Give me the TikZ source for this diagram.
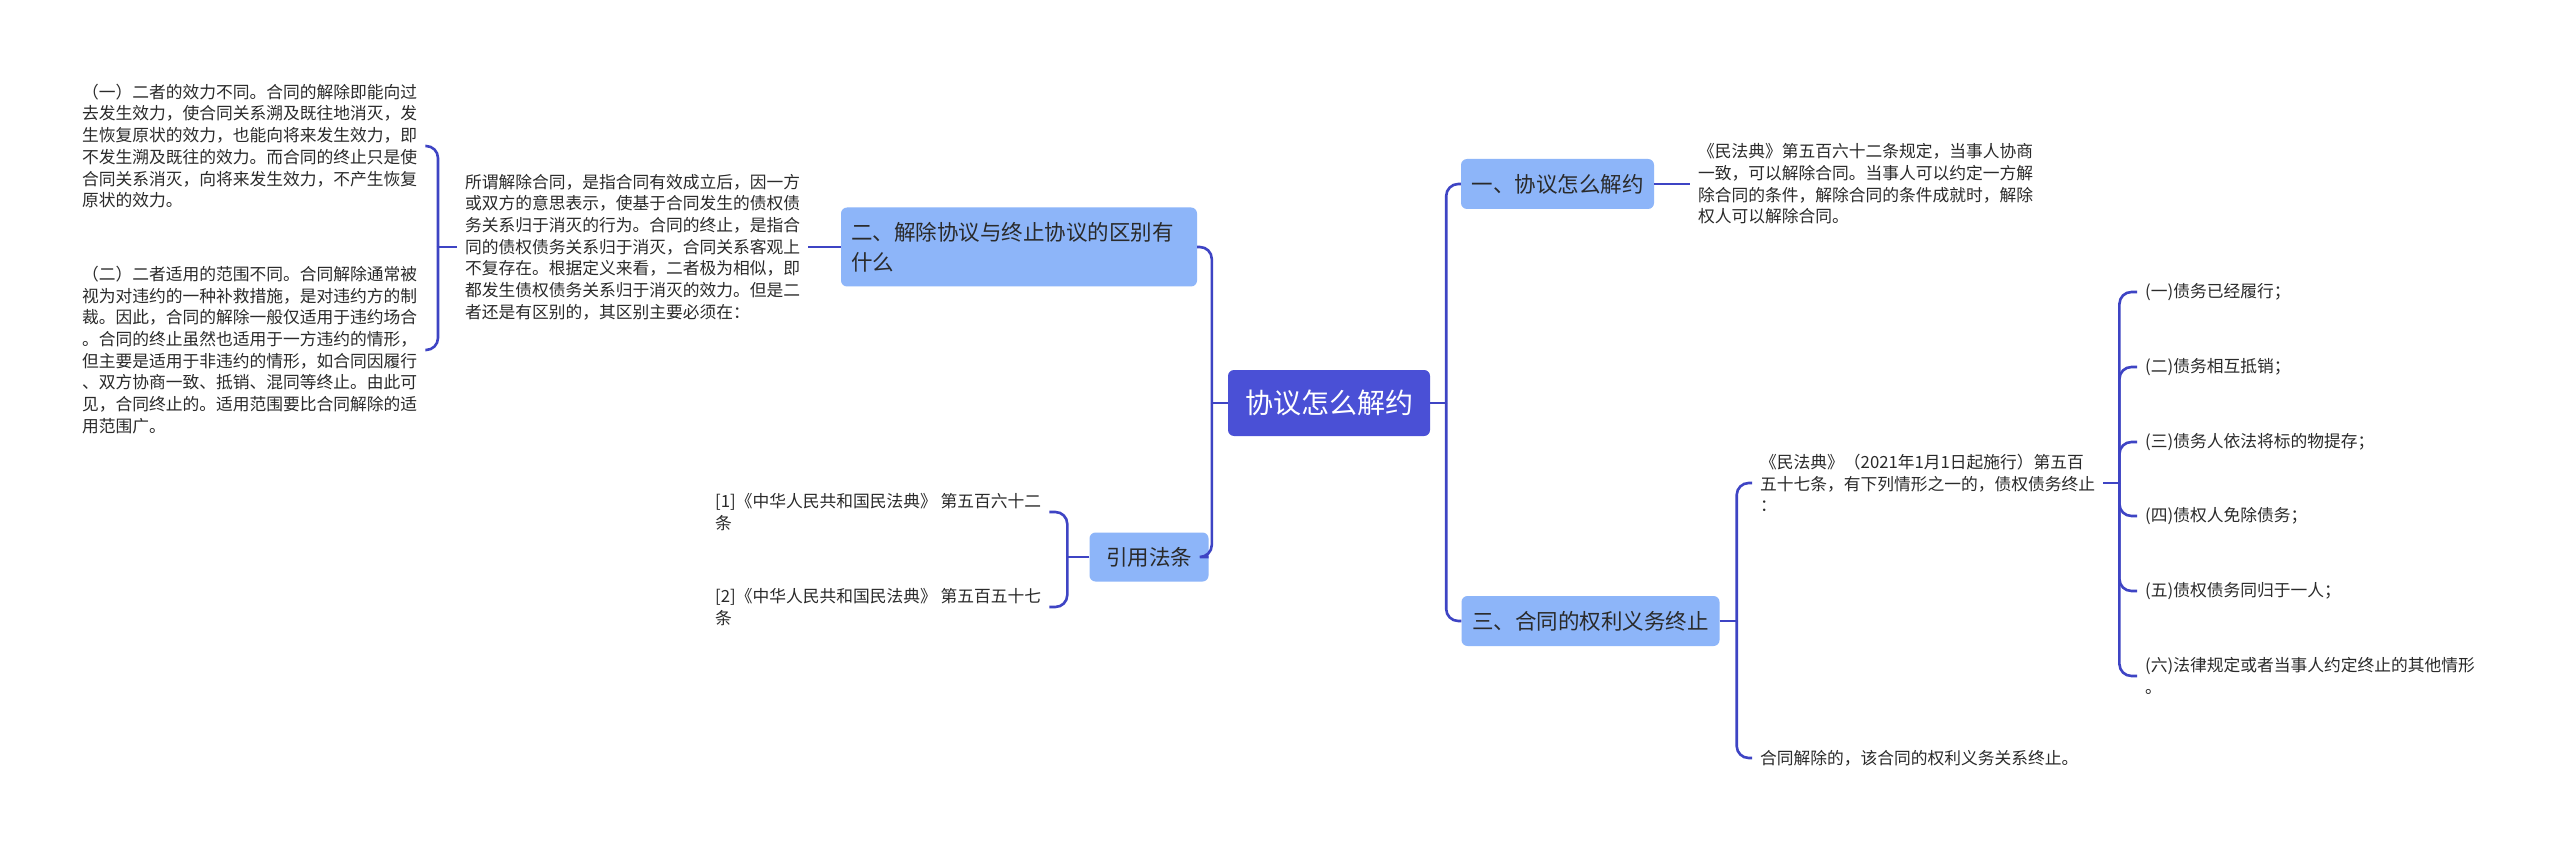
\documentclass[tikz,border=0pt]{standalone}
\usepackage{fontspec}
\setmainfont{Noto Sans CJK SC}
\definecolor{conn}{HTML}{3E44C4}
\definecolor{centerfill}{HTML}{4A50D6}
\definecolor{subfill}{HTML}{8DB5F9}
\definecolor{txt}{HTML}{2A2A2A}
\tikzset{
 connector/.style={draw=conn, line width=2.6pt, rounded corners=12pt},
 centerbox/.style={fill=centerfill, rounded corners=6pt, text=white, font=\fontsize{28}{34}\selectfont, minimum width=202pt, minimum height=66pt, inner sep=0pt},
 subbox/.style={fill=subfill, rounded corners=6pt, text=txt, font=\fontsize{21.5}{30}\selectfont, inner sep=0pt},
 leaf/.style={text=txt, font=\fontsize{16.75}{21.7}\selectfont, align=left, inner xsep=8pt, inner ysep=2pt},
}
\begin{document}
\begin{tikzpicture}[x=1pt,y=-1pt]
\fill[white] (0,0) rectangle (2560,850);
\useasboundingbox (0,0) rectangle (2560,850);

% main nodes
\node[centerbox] (root) at (1329,403) {协议怎么解约};
\node[subbox, minimum width=193pt, minimum height=50pt] (s1) at (1557.5,184) {一、协议怎么解约};
\node[subbox, minimum width=258pt, minimum height=50pt] (s3) at (1590.5,621) {三、合同的权利义务终止};
\node[subbox, minimum width=356pt, minimum height=79pt, text width=336pt, align=left] (s2) at (1019,247) {二、解除协议与终止协议的区别有\\什么};
\node[subbox, minimum width=119pt, minimum height=49pt] (s4) at (1149,557) {引用法条};

% right leaves
\node[leaf, anchor=west] (a1) at (1690,184) {《民法典》第五百六十二条规定，当事人协商\\一致，可以解除合同。当事人可以约定一方解\\除合同的条件，解除合同的条件成就时，解除\\权人可以解除合同。};
\node[leaf, anchor=west] (b) at (1752,483) {《民法典》（2021年1月1日起施行）第五百\\五十七条，有下列情形之一的，债权债务终止\\：};
\node[leaf, anchor=west] (c) at (1752,758) {合同解除的，该合同的权利义务关系终止。};
\node[leaf, anchor=west] (i1) at (2137,292) {(一)债务已经履行；};
\node[leaf, anchor=west] (i2) at (2137,367) {(二)债务相互抵销；};
\node[leaf, anchor=west] (i3) at (2137,442) {(三)债务人依法将标的物提存；};
\node[leaf, anchor=west] (i4) at (2137,516) {(四)债权人免除债务；};
\node[leaf, anchor=west] (i5) at (2137,591) {(五)债权债务同归于一人；};
\node[leaf, anchor=west] (i6) at (2137,676) {(六)法律规定或者当事人约定终止的其他情形\\。};

% left leaves
\node[leaf, anchor=west] (sx) at (457,247) {所谓解除合同，是指合同有效成立后，因一方\\或双方的意思表示，使基于合同发生的债权债\\务关系归于消灭的行为。合同的终止，是指合\\同的债权债务关系归于消灭，合同关系客观上\\不复存在。根据定义来看，二者极为相似，即\\都发生债权债务关系归于消灭的效力。但是二\\者还是有区别的，其区别主要必须在：};
\node[leaf, anchor=west] (l1) at (74,146) {（一）二者的效力不同。合同的解除即能向过\\去发生效力，使合同关系溯及既往地消灭，发\\生恢复原状的效力，也能向将来发生效力，即\\不发生溯及既往的效力。而合同的终止只是使\\合同关系消灭，向将来发生效力，不产生恢复\\原状的效力。};
\node[leaf, anchor=west] (l2) at (74,350) {（二）二者适用的范围不同。合同解除通常被\\视为对违约的一种补救措施，是对违约方的制\\裁。因此，合同的解除一般仅适用于违约场合\\。合同的终止虽然也适用于一方违约的情形，\\但主要是适用于非违约的情形，如合同因履行\\、双方协商一致、抵销、混同等终止。由此可\\见，合同终止的。适用范围要比合同解除的适\\用范围广。};
\node[leaf, anchor=west] (r1) at (707,512) {[1]《中华人民共和国民法典》 第五百六十二\\条};
\node[leaf, anchor=west] (r2) at (707,607) {[2]《中华人民共和国民法典》 第五百五十七\\条};

% junction coordinates
\path (root.east) ++(16,0) coordinate (jR);
\path (root.west) ++(-16,0) coordinate (jL);
\path (s3.east) ++(17,0) coordinate (j3);
\path (b.east) ++(16,0) coordinate (jb);
\path (sx.west) ++(-19,0) coordinate (jS);
\path (s4.west) ++(-22,0) coordinate (j4);

% connectors
\draw[connector] (root.east) -- (jR);
\draw[connector] (jR) |- (s1.west);
\draw[connector] (jR) |- (s3.west);
\draw[connector] (root.west) -- (jL);
\draw[connector] (jL) |- (s2.east);
\draw[connector] (jL) |- (s4.east);
\draw[connector] (s1.east) -- (a1.west);
\draw[connector] (s3.east) -- (j3);
\draw[connector] (j3) |- (b.west);
\draw[connector] (j3) |- (c.west);
\draw[connector] (b.east) -- (jb);
\foreach \n in {i1,i2,i3,i4,i5,i6} \draw[connector] (jb) |- (\n.west);
\draw[connector] (s2.west) -- (sx.east);
\draw[connector] (sx.west) -- (jS);
\draw[connector] (jS) |- (l1.east);
\draw[connector] (jS) |- (l2.east);
\draw[connector] (s4.west) -- (j4);
\draw[connector] (j4) |- (r1.east);
\draw[connector] (j4) |- (r2.east);
\end{tikzpicture}
\end{document}
